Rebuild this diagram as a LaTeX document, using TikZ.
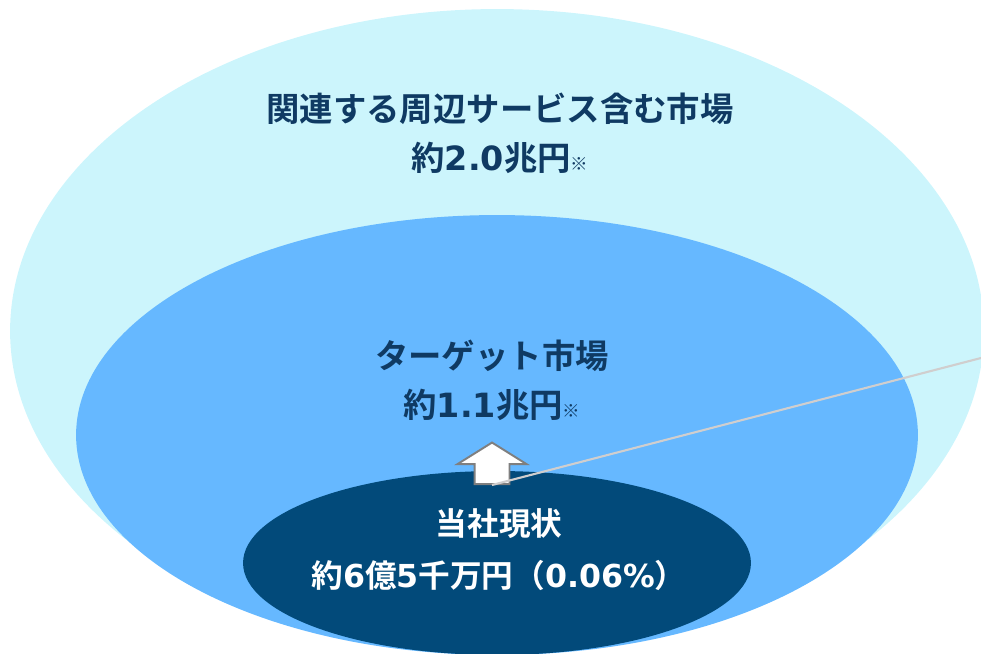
\documentclass[tikz,border=0pt]{standalone}
\usepackage{fontspec}
\newfontfamily\jpfont[BoldFont={Noto Sans CJK JP Bold}]{Noto Sans CJK JP}
\newfontfamily\numfont{DejaVu Sans}
\usetikzlibrary{shapes,shapes.geometric,shapes.arrows,positioning,calc}
\definecolor{skyring}{HTML}{CCF5FC}
\definecolor{midblue}{HTML}{66B8FF}
\definecolor{deepblue}{HTML}{024A7A}
\definecolor{navytext}{HTML}{0F3A63}
\definecolor{arrowgray}{HTML}{7F7F7F}
\definecolor{linegray}{HTML}{D0CECE}
\newcommand{\smallmark}{{\fontsize{10}{12}\selectfont ※}}
\newcommand{\nm}[1]{{\numfont\bfseries #1}}
\tikzset{
	market/.style={ellipse,inner sep=0,draw=none},
	mlabel/.style={font=\jpfont\bfseries\fontsize{19}{27.8}\selectfont,text=navytext,align=center},
	ownlabel/.style={font=\jpfont\bfseries\fontsize{18}{29.5}\selectfont,text=white,align=center},
	uparrow/.style={single arrow,rotate=90,fill=white,draw=arrowgray,line width=1.1pt,
		inner xsep=0,inner ysep=0.33cm,minimum height=0.83cm,
		single arrow head extend=0.34cm,single arrow tip angle=116},
	callout/.style={color=linegray,line width=1.2pt}
}

\begin{document}
\begin{tikzpicture}[x=0.02cm,y=-0.02cm]
		% coordinates are pixels of the 981 x 653 frame
		\useasboundingbox (0,0) rectangle (981,653);
		\clip (0,0) rectangle (981,653);
		
		\node[market,fill=skyring,minimum width=19.48cm,minimum height=12.88cm] (M1) at (497,331) {};
		\node[market,fill=midblue,minimum width=16.84cm,minimum height=8.8cm] (M2) at (497,435) {};
		\node[market,fill=deepblue,minimum width=10.16cm,minimum height=3.68cm] (M3) at (497,563) {};
		
		\node[mlabel] (L1) at (500,133) {関連する周辺サービス含む市場\\約\nm{2.0}兆円\smallmark};
		\node[mlabel] (L2) at (492,380) {ターゲット市場\\約\nm{1.1}兆円\smallmark};
		\node[ownlabel] (L3) at (499,550) {当社現状\\約\nm{6}億\nm{5}千万円（\nm{0.06\%}）};
		
		\node[uparrow,anchor=tail] (up) at (492,485) {};
		\coordinate (rim) at (981,358);
		\draw[callout] (up.tail) -- (rim);
		
\end{tikzpicture}
\end{document}
